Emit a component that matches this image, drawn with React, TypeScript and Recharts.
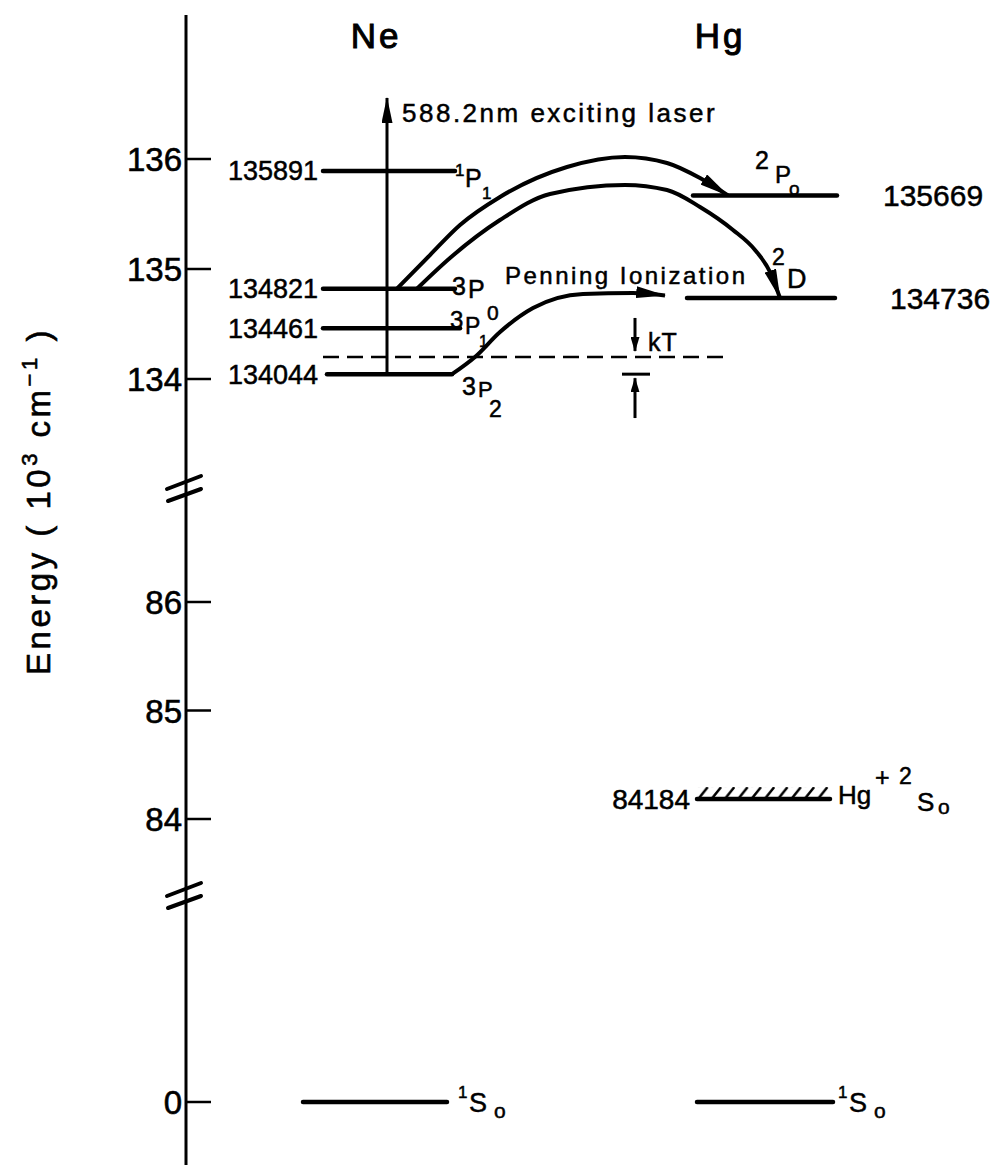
import React from 'react';
import { ComposedChart, XAxis, YAxis, Line, Scatter, ReferenceArea } from 'recharts';

// ---------- data (energies in cm^-1) ----------
const tickEnergies = [136000, 135000, 134000, 86000, 85000, 84000, 0];
const tickLabels = ['136', '135', '134', '86', '85', '84', '0'];

const neLevels = [135891, 134821, 134461, 134044];
const neLevelLabels = ['135891', '134821', '134461', '134044'];
const hgLevels = [135669, 134736];
const hgLevelLabels = ['135669', '134736'];
const hgIonLevel = 84184;
const hgIonLabel = '84184';
const groundLevel = 0;
const kTLevel = 134200;
const laserTop = 136555;

const columnTitles = ['Ne', 'Hg'];

// ---------- layout (horizontal positions, px from page left) ----------
const FONT = '"Liberation Sans", Arial, sans-serif';
const titleX = [376, 720];
const neLevelX = [[323, 455], [323, 455], [323, 460], [327, 452]];
const hgLevelX = [[693, 837], [687, 835]];
const hgIonX = [697, 830];
const groundNeX = [303, 447];
const groundHgX = [697, 833];
const dashX = [323, 725];
const laserX = 387;
const kTX = 635;

// transition arcs: {x, e}
const arcToP0 = [
  { x: 397, e: 134821 }, { x: 430, e: 135127 }, { x: 460, e: 135400 }, { x: 500, e: 135655 },
  { x: 567, e: 135927 }, { x: 625, e: 136018 }, { x: 667, e: 135964 }, { x: 700, e: 135827 },
  { x: 728, e: 135669 },
];
const arcToD = [
  { x: 417, e: 134821 }, { x: 450, e: 135100 }, { x: 500, e: 135445 }, { x: 550, e: 135682 },
  { x: 625, e: 135764 }, { x: 667, e: 135718 }, { x: 700, e: 135564 }, { x: 733, e: 135355 },
  { x: 755, e: 135173 }, { x: 770, e: 134973 }, { x: 780, e: 134736 },
];
const arcPenning = [
  { x: 452, e: 134044 }, { x: 475, e: 134200 }, { x: 500, e: 134427 }, { x: 533, e: 134645 },
  { x: 583, e: 134773 }, { x: 633, e: 134782 }, { x: 665, e: 134760 },
];

// ---------- broken-axis mapping: energy -> display units (px from chart bottom) ----------
function toDisp(e: number): number {
  if (e >= 120000) return 786 + (e - 134000) * 0.11;
  if (e >= 50000) return 346 + (e - 84000) * 0.1085;
  return 63 + e * 0.001;
}
const breakDisp = [677, 270];
const tickDisp = tickEnergies.map(toDisp);

type Lbl = { x: number; e: number; dy: number; t: string; s: number; a?: string; ls?: number; w?: number };

const titleLabels: Lbl[] = columnTitles.map((t, i) => ({ x: titleX[i], e: laserTop, dy: -50, t, s: 35, a: 'middle', ls: 3, w: 1 }));

const numberLabels: Lbl[] = [
  ...neLevels.map((e, i) => ({ x: 318, e, dy: 9.5, t: neLevelLabels[i], s: 27, a: 'end' })),
  { x: 883, e: hgLevels[0], dy: 11, t: hgLevelLabels[0], s: 30 },
  { x: 890, e: hgLevels[1], dy: 11, t: hgLevelLabels[1], s: 30 },
  { x: 690, e: hgIonLevel, dy: 10, t: hgIonLabel, s: 28, a: 'end' },
];

const termLabels: Lbl[] = [
  // Ne 1P1
  { x: 455, e: neLevels[0], dy: 5, t: '1', s: 17 },
  { x: 465, e: neLevels[0], dy: 16, t: 'P', s: 25 },
  { x: 482, e: neLevels[0], dy: 28, t: '1', s: 17 },
  // Ne 3P0
  { x: 452, e: neLevels[1], dy: 6, t: '3', s: 25 },
  { x: 468, e: neLevels[1], dy: 9, t: 'P', s: 25 },
  { x: 487, e: neLevels[1], dy: 31, t: '0', s: 21 },
  // Ne 3P1
  { x: 450, e: neLevels[2], dy: 0, t: '3', s: 24 },
  { x: 465, e: neLevels[2], dy: 6, t: 'P', s: 23 },
  { x: 479, e: neLevels[2], dy: 19, t: '1', s: 16 },
  // Ne 3P2
  { x: 462, e: neLevels[3], dy: 21, t: '3', s: 25 },
  { x: 478, e: neLevels[3], dy: 23, t: 'P', s: 22 },
  { x: 489, e: neLevels[3], dy: 43, t: '2', s: 23 },
  // Hg+ 2P0
  { x: 755, e: hgLevels[0], dy: -26, t: '2', s: 25 },
  { x: 775, e: hgLevels[0], dy: -12, t: 'P', s: 24 },
  { x: 789, e: hgLevels[0], dy: 0, t: 'o', s: 19 },
  // Hg+ 2D
  { x: 772, e: hgLevels[1], dy: -33, t: '2', s: 23 },
  { x: 787, e: hgLevels[1], dy: -10, t: 'D', s: 27 },
  // Hg+ 2S0
  { x: 838, e: hgIonLevel, dy: 5, t: 'Hg', s: 26 },
  { x: 875, e: hgIonLevel, dy: -13, t: '+', s: 25 },
  { x: 899, e: hgIonLevel, dy: -15, t: '2', s: 23 },
  { x: 917, e: hgIonLevel, dy: 12, t: 'S', s: 26 },
  { x: 938, e: hgIonLevel, dy: 15, t: 'o', s: 21 },
  // ground states
  { x: 458, e: groundLevel, dy: -4, t: '1', s: 17 },
  { x: 469, e: groundLevel, dy: 10, t: 'S', s: 27 },
  { x: 494, e: groundLevel, dy: 16, t: 'o', s: 21 },
  { x: 838, e: groundLevel, dy: -4, t: '1', s: 17 },
  { x: 849, e: groundLevel, dy: 10, t: 'S', s: 27 },
  { x: 874, e: groundLevel, dy: 16, t: 'o', s: 21 },
];

const annotationLabels: Lbl[] = [
  { x: 402, e: laserTop, dy: 24, t: '588.2nm exciting laser', s: 26, ls: 2.5 },
  { x: 505, e: neLevels[1], dy: -5, t: 'Penning Ionization', s: 24, ls: 2.5 },
  { x: 648, e: kTLevel, dy: -6, t: 'kT', s: 25, ls: 1 },
];

const allLabels = [...titleLabels, ...numberLabels, ...termLabels, ...annotationLabels].map((l) => ({ ...l, y: toDisp(l.e) }));

const seg = (x1: number, x2: number, e: number) => [
  { x: x1, y: toDisp(e) },
  { x: x2, y: toDisp(e) },
];
const pts = (arr: { x: number; e: number }[]) => arr.map((p) => ({ x: p.x, y: toDisp(p.e) }));

const levelSegs = [
  ...neLevels.map((e, i) => seg(neLevelX[i][0], neLevelX[i][1], e)),
  ...hgLevels.map((e, i) => seg(hgLevelX[i][0], hgLevelX[i][1], e)),
  seg(hgIonX[0], hgIonX[1], hgIonLevel),
  seg(groundNeX[0], groundNeX[1], groundLevel),
  seg(groundHgX[0], groundHgX[1], groundLevel),
];

const YTick = (props: any) => {
  const { x, y, payload } = props;
  const v = payload.value;
  if (breakDisp.some((b) => Math.abs(b - v) < 0.01)) {
    return (
      <g stroke="#000" strokeWidth={4} strokeLinecap="round">
        <line x1={x - 19} y1={y + 1} x2={x + 15} y2={y - 12} />
        <line x1={x - 18} y1={y + 13} x2={x + 15} y2={y + 1} />
      </g>
    );
  }
  const idx = tickDisp.findIndex((t) => Math.abs(t - v) < 0.01);
  return (
    <g>
      <line x1={x} x2={x + 25} y1={y} y2={y} stroke="#000" strokeWidth={2.5} />
      <text x={x - 4} y={y + 12} textAnchor="end" fontSize={33} fontFamily={FONT} fill="#000" stroke="#000" strokeWidth={0.6}>
        {tickLabels[idx]}
      </text>
    </g>
  );
};

const AxisTitle = () => (
  <text x={50} y={501} transform="rotate(-90 50 501)" textAnchor="middle" fontSize={33} fontFamily={FONT} letterSpacing={3.5} fill="#000" stroke="#000" strokeWidth={0.6}>
    Energy ( 10<tspan dy={-13} fontSize={22}>3</tspan>
    <tspan dy={13}> cm</tspan>
    <tspan dy={-13} fontSize={22}>−1</tspan>
    <tspan dy={13}> )</tspan>
  </text>
);

const LabelShape = (p: any) => {
  const d = p.payload;
  return (
    <text x={p.cx} y={p.cy + d.dy} fontSize={d.s} textAnchor={d.a || 'start'} letterSpacing={d.ls || 0} fontFamily={FONT} fill="#000" stroke="#000" strokeWidth={d.w || 0.5}>
      {d.t}
    </text>
  );
};

const lineCommon = {
  dataKey: 'y',
  stroke: '#000',
  dot: false,
  activeDot: false,
  isAnimationActive: false,
  legendType: 'none' as const,
};

export default function App() {
  return (
    <div style={{ position: 'absolute', left: 0, top: 0, background: '#fff' }}>
      <ComposedChart width={1004} height={1165} margin={{ top: 15, right: 0, bottom: 0, left: 0 }}>
        <defs>
          <marker id="arrBig" viewBox="0 0 30 12" refX="29" refY="6" markerWidth="30" markerHeight="12" markerUnits="userSpaceOnUse" orient="auto">
            <path d="M0,0 L30,6 L0,12 Z" fill="#000" />
          </marker>
          <marker id="arrLaser" viewBox="0 0 26 11" refX="25" refY="5.5" markerWidth="26" markerHeight="11" markerUnits="userSpaceOnUse" orient="auto">
            <path d="M0,0 L26,5.5 L0,11 Z" fill="#000" />
          </marker>
          <marker id="arrSmall" viewBox="0 0 15 9" refX="14" refY="4.5" markerWidth="15" markerHeight="9" markerUnits="userSpaceOnUse" orient="auto">
            <path d="M0,0 L15,4.5 L0,9 Z" fill="#000" />
          </marker>
          <pattern id="hatch" patternUnits="objectBoundingBox" width={0.1} height={1}>
            <path d="M2,11 L10,1" stroke="#000" strokeWidth={2.5} strokeLinecap="round" />
          </pattern>
        </defs>
        <XAxis xAxisId={0} type="number" dataKey="x" domain={[186, 1004]} allowDataOverflow hide />
        <YAxis
          yAxisId={0}
          type="number"
          dataKey="y"
          domain={[0, 1150]}
          allowDataOverflow
          ticks={[...tickDisp, ...breakDisp]}
          interval={0}
          tick={<YTick />}
          tickLine={false}
          tickSize={0}
          tickMargin={0}
          axisLine={{ stroke: '#000', strokeWidth: 3 }}
          width={186}
          label={{ content: <AxisTitle /> }}
        />

        <ReferenceArea
          x1={hgIonX[0]}
          x2={hgIonX[1]}
          y1={toDisp(hgIonLevel)}
          y2={toDisp(hgIonLevel) + 12}
          fill="url(#hatch)"
          fillOpacity={1}
          stroke="none"
          ifOverflow="visible"
        />

        {levelSegs.map((d, i) => (
          <Line key={`lvl${i}`} {...lineCommon} data={d} type="linear" strokeWidth={4.5} strokeLinecap="round" />
        ))}

        <Line key="dash" {...lineCommon} data={seg(dashX[0], dashX[1], kTLevel)} type="linear" strokeWidth={2.5} strokeDasharray="16 8" />

        <Line key="laser" {...lineCommon} data={[{ x: laserX, y: toDisp(neLevels[3]) }, { x: laserX, y: toDisp(laserTop) }]} type="linear" strokeWidth={3} markerEnd="url(#arrLaser)" />

        <Line key="arc1" {...lineCommon} data={pts(arcToP0)} type="monotone" strokeWidth={4} markerEnd="url(#arrBig)" />
        <Line key="arc2" {...lineCommon} data={pts(arcToD)} type="monotone" strokeWidth={4} markerEnd="url(#arrBig)" />
        <Line key="arc3" {...lineCommon} data={pts(arcPenning)} type="monotone" strokeWidth={4} markerEnd="url(#arrBig)" />

        <Line key="kTdown" {...lineCommon} data={[{ x: kTX, y: toDisp(134555) }, { x: kTX, y: toDisp(134255) }]} type="linear" strokeWidth={3} markerEnd="url(#arrSmall)" />
        <Line key="kTup" {...lineCommon} data={[{ x: kTX, y: toDisp(133645) }, { x: kTX, y: toDisp(neLevels[3]) - 4 }]} type="linear" strokeWidth={3} markerEnd="url(#arrSmall)" />
        <Line key="kTbar" {...lineCommon} data={seg(kTX - 13, kTX + 15, neLevels[3])} type="linear" strokeWidth={3} />

        <Scatter key="labels" data={allLabels} dataKey="y" shape={<LabelShape />} isAnimationActive={false} legendType="none" />
      </ComposedChart>
    </div>
  );
}
